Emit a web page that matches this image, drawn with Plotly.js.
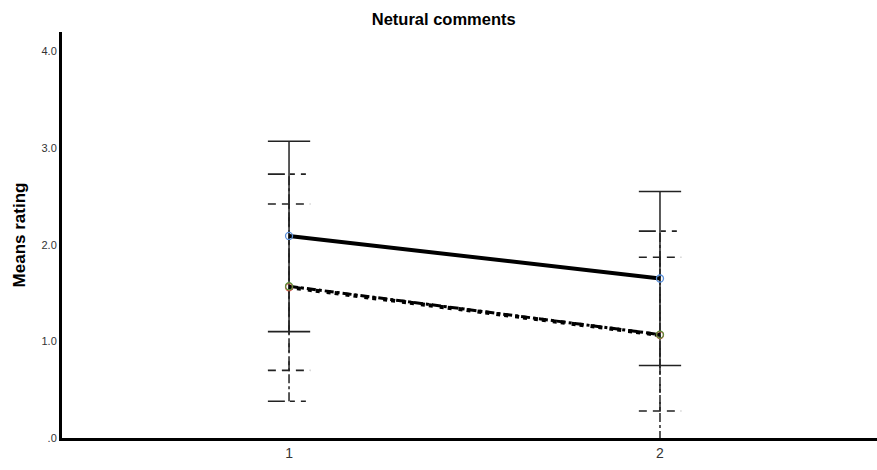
<!DOCTYPE html>
<html>
<head>
<meta charset="utf-8">
<script src="https://cdn.plot.ly/plotly-3.0.1.min.js"></script>
<style>html,body{margin:0;padding:0;background:#fff;}#chart{width:877px;height:470px;}</style>
</head>
<body>
<div id="chart"></div>
<script>
// ---- data ----
var categories = [1, 2];
var tickLabels = ['1', '2'];
var yTickVals = [0, 1, 2, 3, 4];
var yTickText = ['.0', '1.0', '2.0', '3.0', '4.0'];

var meanA = [2.09, 1.65];
var lowA  = [1.10, 0.75];
var highA = [3.07, 2.55];

var meanB = [1.57, 1.07];
var lowB  = [0.38, -0.02];
var highB = [2.73, 2.14];

var meanC = [1.56, 1.065];
var lowC  = [0.70, 0.28];
var highC = [2.42, 1.87];

// ---- helpers ----
var capHalf = 0.057;
function stemXY(lo, hi) {
  var x = [], y = [];
  for (var i = 0; i < categories.length; i++) {
    x.push(categories[i], categories[i], null);
    y.push(lo[i], hi[i], null);
  }
  return {x: x, y: y};
}
function capXY(lo, hi) {
  var x = [], y = [];
  for (var i = 0; i < categories.length; i++) {
    x.push(categories[i] - capHalf, categories[i] + capHalf, null);
    y.push(hi[i], hi[i], null);
    x.push(categories[i] - capHalf, categories[i] + capHalf, null);
    y.push(lo[i], lo[i], null);
  }
  return {x: x, y: y};
}
var barColor = '#222';
function errTraces(lo, hi, stemDash, capDash) {
  var s = stemXY(lo, hi), c = capXY(lo, hi);
  return [
    {x: s.x, y: s.y, mode: 'lines', line: {color: barColor, width: 1.5, dash: stemDash}, hoverinfo: 'skip', showlegend: false},
    {x: c.x, y: c.y, mode: 'lines', line: {color: barColor, width: 1.6, dash: capDash}, hoverinfo: 'skip', showlegend: false}
  ];
}

var traces = [];
traces = traces.concat(errTraces(lowB, highB, 'dashdot', '17px,5px,5px,6px,5px,10px'));
traces = traces.concat(errTraces(lowC, highC, 'dash', '8px,6px'));
traces = traces.concat(errTraces(lowA, highA, 'solid', 'solid'));

traces.push({x: categories, y: meanB, mode: 'lines', name: 'Series B',
  line: {color: '#000', width: 3, dash: 'dashdot'}});
traces.push({x: categories, y: meanC, mode: 'lines+markers', name: 'Series C',
  line: {color: '#000', width: 4, dash: '4px,4px,4px,7px'},
  marker: {symbol: 'circle-open', size: 7, color: '#d9534f', line: {width: 1.3}}});
traces.push({x: categories, y: meanB, mode: 'markers', showlegend: false, hoverinfo: 'skip',
  marker: {symbol: 'circle-open', size: 7, color: '#5b8f3a', line: {width: 1.3}}});
traces.push({x: categories, y: meanA, mode: 'lines+markers', name: 'Series A',
  line: {color: '#000', width: 4},
  marker: {symbol: 'circle-open', size: 7, color: '#5a8fd8', line: {width: 1.3}}});

var layout = {
  width: 877, height: 470,
  margin: {l: 62, r: 0, t: 32, b: 32},
  paper_bgcolor: '#fff', plot_bgcolor: '#fff',
  showlegend: false,
  font: {family: 'Liberation Sans, Arial, sans-serif', color: '#333'},
  title: {text: '<b>Netural comments</b>', x: 0.506, xref: 'container', xanchor: 'center',
          y: 0.96, yref: 'container', yanchor: 'middle',
          font: {size: 16.5, color: '#000', family: 'Liberation Sans, Arial, sans-serif'}},
  xaxis: {range: [0.388, 2.585], tickvals: categories, ticktext: tickLabels,
          showgrid: false, zeroline: false, showline: true, linecolor: '#000', linewidth: 3,
          layer: 'above traces',
          ticks: '', tickfont: {size: 14, color: '#333'}, fixedrange: true},
  yaxis: {range: [0, 4.2], tickvals: yTickVals, ticktext: yTickText,
          showgrid: false, zeroline: false, showline: true, linecolor: '#000', linewidth: 3,
          layer: 'above traces',
          ticks: '', tickfont: {size: 11, color: '#333'},
          title: {text: '<b>Means rating</b>', font: {size: 17, color: '#000'}, standoff: 12},
          automargin: false, fixedrange: true}
};

Plotly.newPlot('chart', traces, layout, {staticPlot: true});
</script>
</body>
</html>
